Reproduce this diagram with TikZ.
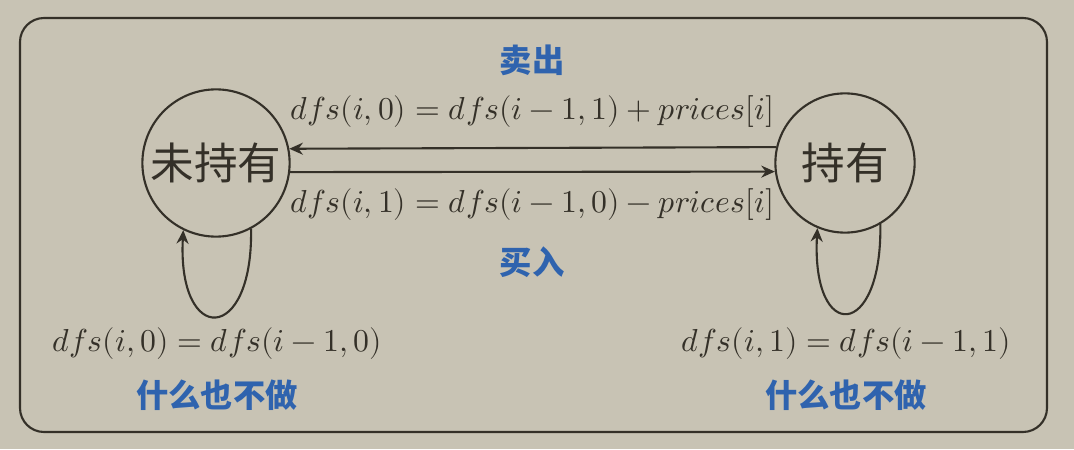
\documentclass[tikz,border=0pt]{standalone}
\usepackage{fontspec}
\usepackage{unicode-math}
\setmathfont{Latin Modern Math}
\newfontfamily\cjk{Noto Sans CJK SC}
\usetikzlibrary{arrows.meta}
\definecolor{bg}{RGB}{200,195,180}
\definecolor{ink}{RGB}{52,48,40}
\definecolor{blu}{RGB}{47,99,174}

\begin{document}
\begin{tikzpicture}[x=0.025cm,y=0.025cm,
  state/.style={draw=ink,line width=1.5pt,circle,inner sep=0pt,text=ink,font=\cjk\fontsize{31}{35}\selectfont},
  eq/.style={text=ink,inner sep=0pt,font=\fontsize{22.6}{27}\selectfont},
  act/.style={text=blu,inner sep=0pt,font=\cjk\bfseries\fontsize{23}{27}\selectfont},
  edge/.style={draw=ink,line width=1.5pt,-{Stealth[length=3.4mm,width=3mm]}}]

 \fill[bg] (0,0) rectangle (1074,449);
 \useasboundingbox (0,0) rectangle (1074,449);
 \draw[ink,line width=1.5pt,rounded corners=0.6cm] (20,431) rectangle (1047,17);

 \node[state,minimum size=3.68cm] (s0) at (216,286) {未持有};
  \node[state,minimum size=3.48cm] (s1) at (845,286) {持有};

 \node[act] (sell) at (532,389) {卖出};
  \node[eq] (e1) at (532,337) {$dfs(i,0)=dfs(i-1,1)+prices[i]$};
   \node[eq] (e2) at (532,244) {$dfs(i,1)=dfs(i-1,0)-prices[i]$};
    \node[act] (buy) at (532,187) {买入};

 \node[eq] (e3) at (217,105) {$dfs(i,0)=dfs(i-1,0)$};
  \node[act] (n0) at (217,54) {什么也不做};
 \node[eq] (e4) at (846,105) {$dfs(i,1)=dfs(i-1,1)$};
  \node[act] (n1) at (846,54) {什么也不做};

 \draw[edge] (s1.167.6) -- (s0.11.8);
 \draw[edge] (s0.-7) -- (s1.187.4);
\draw[edge] (s0.-62) .. controls +(-89:2.9cm) and +(-93:2.9cm) .. (s0.-116);
\draw[edge] (s1.-60) .. controls +(-89:2.9cm) and +(-93:2.9cm) .. (s1.-113);

\end{tikzpicture}
\end{document}
